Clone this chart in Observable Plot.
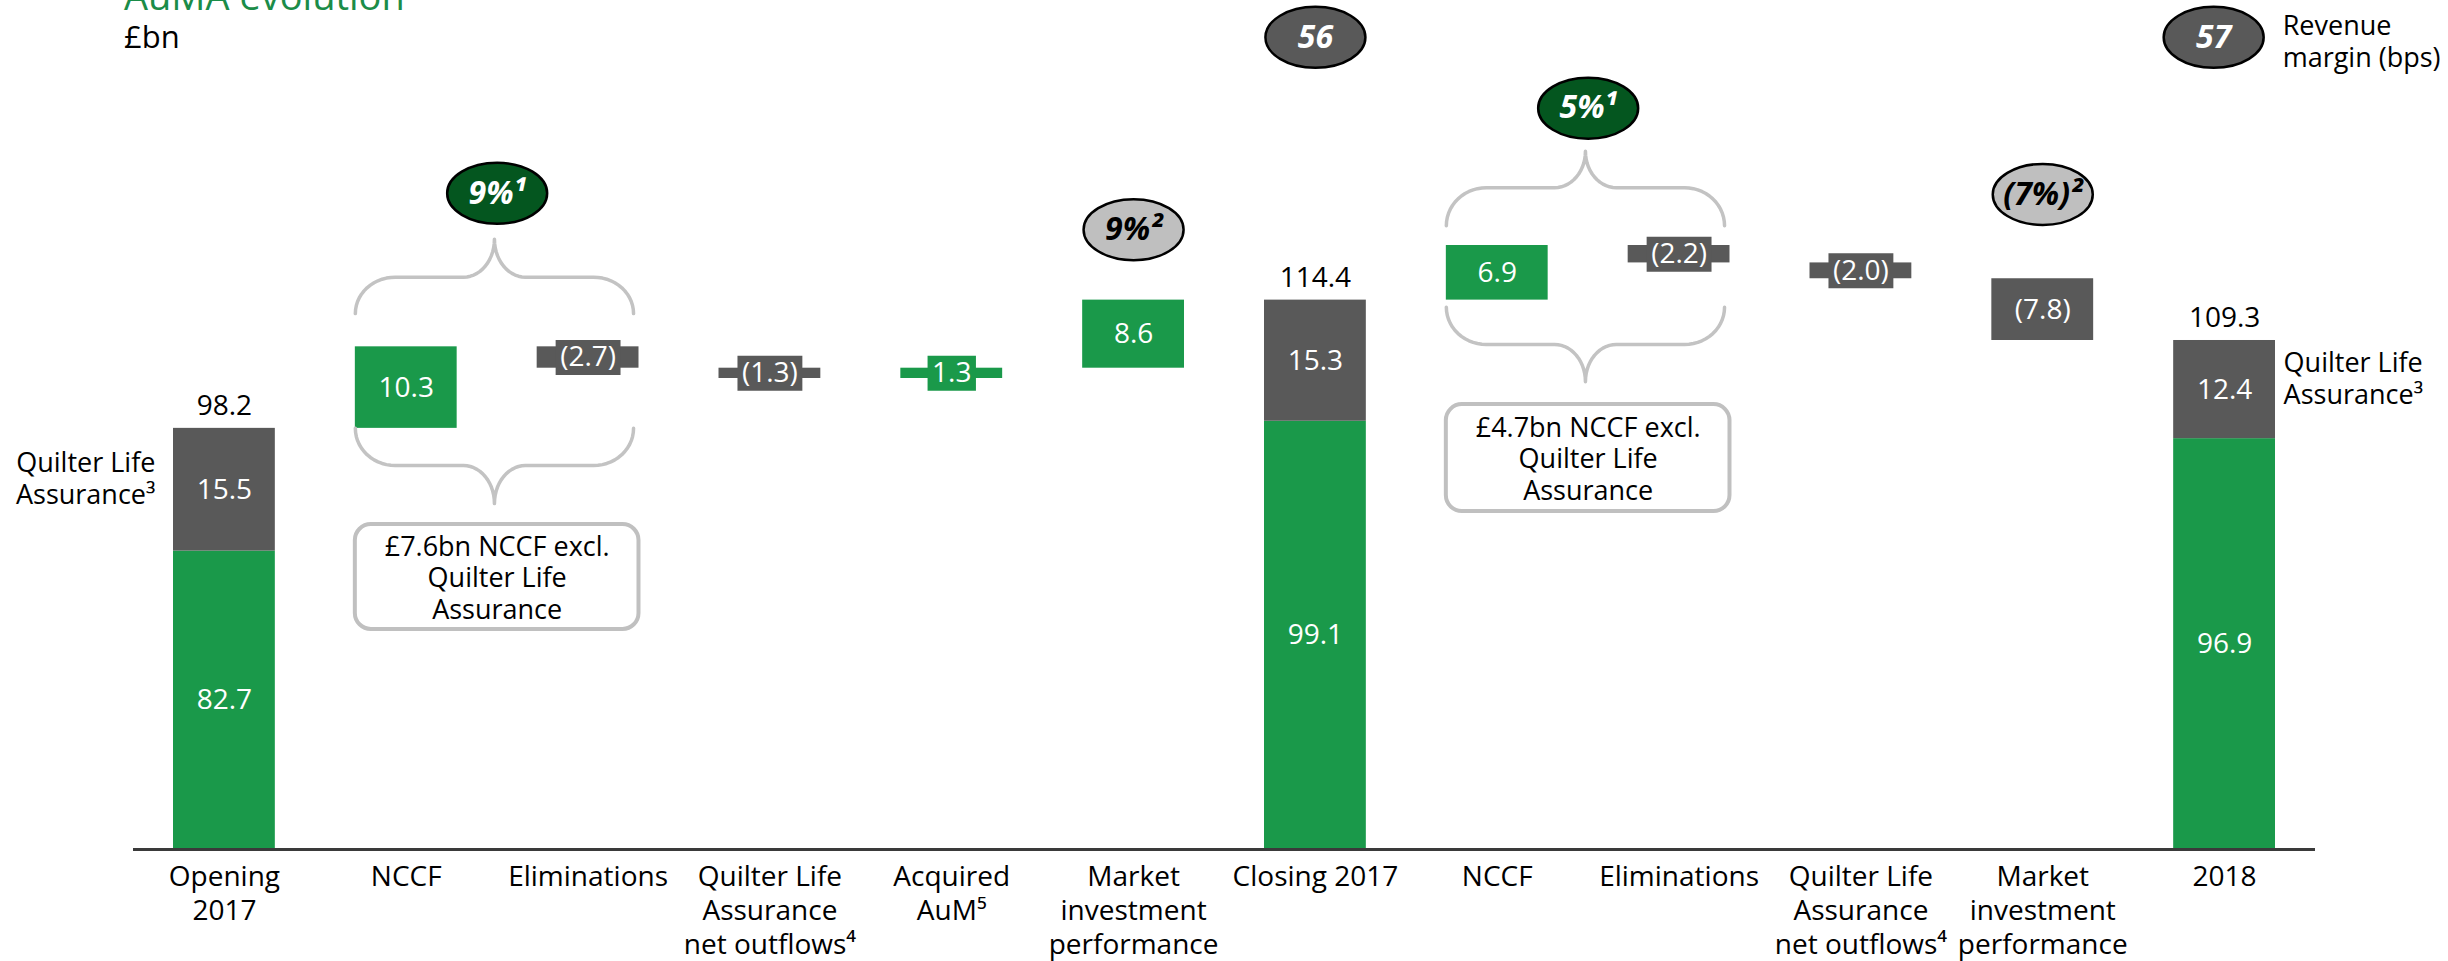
<!DOCTYPE html>
<html>
<head>
<meta charset="utf-8">
<script src="https://cdn.jsdelivr.net/npm/d3@7"></script>
<script src="https://cdn.jsdelivr.net/npm/@observablehq/plot@0.6"></script>
<style>
  html, body { margin: 0; padding: 0; background: #fff; }
  body { font-family: 'Open Sans', sans-serif; }
  #wrap { position: relative; width: 2448px; height: 961px; overflow: hidden; background: #fff; }
  #chart svg { display: block; }
  #title { position: absolute; left: 124px; top: -31px; font-size: 38px; line-height: normal; color: #1b8c48; white-space: nowrap; }
  #sub { position: absolute; left: 124px; top: 15px; font-size: 31px; line-height: normal; color: #000; white-space: nowrap; }
</style>
</head>
<body>
<div id="wrap">
  <div id="chart"></div>
  <div id="title">AuMA evolution</div>
  <div id="sub">£bn</div>
</div>
<script>
// ---------------- data ----------------
const categories = ["Opening 2017", "NCCF 2017", "Eliminations 2017", "QLA net outflows 2017", "Acquired AuM",
  "Market 2017", "Closing 2017", "NCCF 2018", "Eliminations 2018", "QLA net outflows 2018", "Market 2018", "2018"];
const tickLabels = ["Opening\n2017", "NCCF", "Eliminations", "Quilter Life\nAssurance\nnet outflows⁴", "Acquired\nAuM⁵",
  "Market\ninvestment\nperformance", "Closing 2017", "NCCF", "Eliminations", "Quilter Life\nAssurance\nnet outflows⁴",
  "Market\ninvestment\nperformance", "2018"];
const barKinds = ["total", "step", "step", "step", "step", "step", "total", "step", "step", "step", "step", "total"];
const totalCore = [82.7, 99.1, 96.9];   // AuMA excl. Quilter Life Assurance
const totalQLA = [15.5, 15.3, 12.4];    // Quilter Life Assurance
const stepValues = [10.3, -2.7, -1.3, 1.3, 8.6, 6.9, -2.2, -2.0, -7.8];
const axisBase = 45;                    // value at the baseline (broken axis)

// bubbles (growth %, market %, revenue margin)
const bubbleLabels = ["9%¹", "9%²", "56", "5%¹", "(7%)²", "57"];
const bubbleX = [1.5, 5, 6, 7.5, 10, 10.94];
const bubbleY = [127.9, 123.3, 147.6, 138.65, 127.75, 147.6];
const bubbleKinds = ["growth", "market", "margin", "growth", "market", "margin"];

// braces
const braceFrom = [1, 1, 7, 7];
const braceTo = [2, 2, 8, 8];
const braceEnd = [112.7, 98.2, 123.8, 113.5];
const braceMid = [117.3, 93.5, 128.6, 108.8];
const braceTip = [122.1, 88.7, 133.2, 104.1];

// note boxes
const noteTexts = ["£7.6bn NCCF excl.\nQuilter Life\nAssurance", "£4.7bn NCCF excl.\nQuilter Life\nAssurance"];
const noteFrom = [1, 7];
const noteTo = [2, 8];
const noteTop = [86.05, 101.2];
const noteBottom = [72.8, 87.7];

// ---------------- styles ----------------
const GREEN = "#1a994a", GREY = "#595959", LIGHT = "#bfbfbf", DARKGREEN = "#04561f";
const HALF = 0.28;
const bubbleFill = {growth: DARKGREEN, market: LIGHT, margin: GREY};
const bubbleText = {growth: "white", market: "black", margin: "white"};

// ---------------- build ----------------
const fmt = v => v < 0 ? `(${Math.abs(v).toFixed(1)})` : v.toFixed(1);
const segments = [], totals = [], steps = [];
let run = 0, ti = 0, si = 0;
categories.forEach((c, i) => {
  if (barKinds[i] === "total") {
    const core = totalCore[ti], qla = totalQLA[ti]; ti++;
    const total = +(core + qla).toFixed(1);
    segments.push({i, y1: axisBase, y2: core, color: GREEN}, {i, y1: core, y2: total, color: GREY});
    totals.push({i, core, qla, total});
    run = total;
  } else {
    const v = stepValues[si++];
    const start = run, end = +(run + v).toFixed(1);
    segments.push({i, y1: start, y2: end, color: v >= 0 ? GREEN : GREY});
    steps.push({i, v, start, end, mid: (start + end) / 2, label: fmt(v), small: Math.abs(v) < 5, color: v >= 0 ? GREEN : GREY});
    run = end;
  }
});

const bubbles = bubbleLabels.map((label, k) => ({label, x: bubbleX[k], y: bubbleY[k],
  fill: bubbleFill[bubbleKinds[k]], color: bubbleText[bubbleKinds[k]], kind: bubbleKinds[k]}));

const bracePts = [];
braceFrom.forEach((from, k) => {
  const xl = from - HALF, xr = braceTo[k] + 0.25, xc = (xl + xr) / 2;
  const end = braceEnd[k], mid = braceMid[k], tip = braceTip[k];
  const r1 = 0.22, r2 = 0.17, N = 14;
  const A = t => t / N * Math.PI / 2;
  for (let t = 0; t <= N; t++) bracePts.push({id: k, x: xl + r1 - r1 * Math.cos(A(t)), y: end + (mid - end) * Math.sin(A(t))});
  for (let t = 0; t <= N; t++) bracePts.push({id: k, x: xc - r2 + r2 * Math.sin(A(t)), y: tip + (mid - tip) * Math.cos(A(t))});
  for (let t = 0; t <= N; t++) bracePts.push({id: k, x: xc + r2 - r2 * Math.cos(A(t)), y: tip + (mid - tip) * Math.sin(A(t))});
  for (let t = 0; t <= N; t++) bracePts.push({id: k, x: xr - r1 + r1 * Math.sin(A(t)), y: end + (mid - end) * Math.cos(A(t))});
});

const notes = noteTexts.map((text, k) => ({text, from: noteFrom[k], to: noteTo[k], top: noteTop[k], bottom: noteBottom[k]}));

// text measuring for label boxes
const mctx = document.createElement("canvas").getContext("2d");
mctx.font = "28px 'Open Sans'";
const measure = s => mctx.measureText(s).width;

// custom symbols
const K = 0.5523;
const ellipseSymbol = {
  draw(ctx, size) {
    const rx = Math.sqrt(size / Math.PI), ry = rx * 0.61;
    ctx.moveTo(rx, 0);
    ctx.bezierCurveTo(rx, ry * K, rx * K, ry, 0, ry);
    ctx.bezierCurveTo(-rx * K, ry, -rx, ry * K, -rx, 0);
    ctx.bezierCurveTo(-rx, -ry * K, -rx * K, -ry, 0, -ry);
    ctx.bezierCurveTo(rx * K, -ry, rx, -ry * K, rx, 0);
    ctx.closePath();
  }
};
const boxSymbol = {
  draw(ctx, size) {
    const r = Math.sqrt(size / Math.PI);
    ctx.rect(-r, -17.5, 2 * r, 35);
  }
};

const left = totals.filter(d => d.i === 0);
const right = totals.filter(d => d.i === categories.length - 1);
const margin = bubbles.filter(d => d.x > 10.5);

const plot = Plot.plot({
  width: 2448,
  height: 961,
  marginLeft: 133,
  marginRight: 133,
  marginTop: 0,
  marginBottom: 112,
  x: {domain: [-0.5, categories.length - 0.5], axis: null},
  y: {domain: [axisBase, 152.25], axis: null},
  r: {type: "identity"},
  color: {type: "identity"},
  style: {fontFamily: "'Open Sans', sans-serif", fontSize: "28px", background: "white", color: "black", overflow: "visible"},
  marks: [
    Plot.rect(segments, {x1: d => d.i - HALF, x2: d => d.i + HALF, y1: "y1", y2: "y2", fill: "color"}),
    Plot.ruleY([axisBase], {stroke: "#3a3a3a", strokeWidth: 3}),
    Plot.axisX({ticks: d3.range(categories.length), tickFormat: i => tickLabels[i], tickSize: 0, tickPadding: 13,
      fontSize: 28, lineHeight: 1.2, fill: "black"}),
    Plot.line(bracePts, {x: "x", y: "y", z: "id", stroke: "#c3c3c3", strokeWidth: 3.5, curve: "linear"}),
    Plot.rect(notes, {x1: d => d.from - HALF, x2: d => d.to + HALF, y1: "bottom", y2: "top",
      fill: "white", stroke: "#c0c0c0", strokeWidth: 4, rx: 16}),
    Plot.text(notes, {x: d => (d.from + d.to) / 2, y: d => (d.top + d.bottom) / 2, text: "text",
      fontSize: 27, lineHeight: 1.17, fill: "black"}),
    Plot.dot(steps.filter(d => d.small), {x: "i", y: "mid", r: d => (measure(d.label) + 9) / 2,
      symbol: boxSymbol, fill: "color", stroke: null}),
    Plot.text(steps, {x: "i", y: "mid", text: "label", fill: "white", fontSize: 28}),
    Plot.text(totals, {x: "i", y: d => (axisBase + d.core) / 2, text: d => d.core.toFixed(1), fill: "white", fontSize: 28}),
    Plot.text(totals, {x: "i", y: d => d.core + d.qla / 2, text: d => d.qla.toFixed(1), fill: "white", fontSize: 28}),
    Plot.text(totals, {x: "i", y: "total", dy: -22, text: d => d.total.toFixed(1), fill: "black", fontSize: 28}),
    Plot.text(left, {x: "i", y: d => d.core + d.qla / 2, dx: -69, dy: -12, text: () => "Quilter Life\nAssurance³",
      textAnchor: "end", fontSize: 27, lineHeight: 1.185, fill: "black"}),
    Plot.text(right, {x: "i", y: d => d.core + d.qla / 2, dx: 59, dy: -12, text: () => "Quilter Life\nAssurance³",
      textAnchor: "start", fontSize: 27, lineHeight: 1.185, fill: "black"}),
    Plot.dot(bubbles, {x: "x", y: "y", r: 50, symbol: ellipseSymbol, fill: "fill", stroke: "black", strokeWidth: 2.5}),
    Plot.text(bubbles, {x: "x", y: "y", text: "label", fill: "color", fontSize: 32, fontWeight: "bold", fontStyle: "italic"}),
    Plot.text(margin, {x: "x", y: "y", dx: 69, dy: 3.5, text: () => "Revenue\nmargin (bps)", textAnchor: "start",
      fontSize: 27, lineHeight: 1.185, fill: "black"})
  ]
});
document.getElementById("chart").appendChild(plot);
</script>
</body>
</html>
